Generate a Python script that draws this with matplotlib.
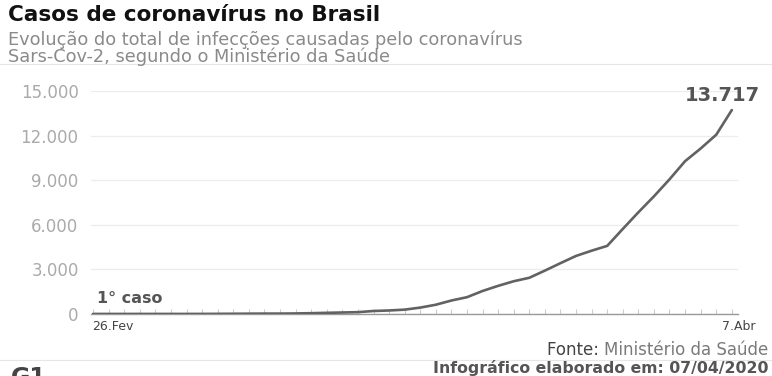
import matplotlib.pyplot as plt
import numpy as np

# total confirmed cases per day, 26 Feb to 7 Apr 2020
dates = ["26.Fev", "7.Abr"]
cases = [1, 1, 1, 2, 2, 2, 2, 3, 8, 13, 19, 25, 25, 34, 52, 77, 98, 121, 200,
         234, 291, 428, 621, 904, 1128, 1546, 1891, 2201, 2433, 2915, 3417,
         3904, 4256, 4579, 5717, 6836, 7910, 9056, 10278, 11130, 12056, 13717]
y_ticks = [0, 3000, 6000, 9000, 12000, 15000]
y_labels = ["0", "3.000", "6.000", "9.000", "12.000", "15.000"]

days = np.arange(len(cases))

fig = plt.figure(figsize=(7.72, 3.76), dpi=100)
ax = fig.add_axes([0.118, 0.165, 0.838, 0.593])

ax.plot(days, cases, color="#626262", lw=1.9, solid_capstyle="round", zorder=3)

ax.set_xlim(-0.13, 41.4)
ax.set_ylim(0, 15000)
ax.set_yticks(y_ticks)
ax.set_yticklabels(y_labels)
ax.set_xticks(days)
ax.set_xticklabels([])
ax.grid(axis="y", color="#ececec", lw=0.9)
ax.set_axisbelow(True)
for side in ["top", "right", "left"]:
    ax.spines[side].set_visible(False)
ax.spines["bottom"].set_color("#999999")
ax.spines["bottom"].set_linewidth(1.0)
ax.tick_params(axis="x", direction="in", length=3.5, color="#cccccc", width=0.8)
ax.tick_params(axis="y", length=0, pad=9, labelsize=12, labelcolor="#aaaaaa")

# end labels on the date axis
ax.annotate(dates[0], xy=(0, 0), xycoords=("data", "axes fraction"),
            xytext=(-1, -4), textcoords="offset points", ha="left", va="top",
            fontsize=9, color="#444444")
ax.annotate(dates[1], xy=(days[-1], 0), xycoords=("data", "axes fraction"),
            xytext=(17, -4), textcoords="offset points", ha="right", va="top",
            fontsize=9, color="#444444")

ax.annotate("1° caso", xy=(days[0], cases[0]), xytext=(3, 6),
            textcoords="offset points", ha="left", va="bottom",
            fontsize=11.5, fontweight="bold", color="#555555")
ax.annotate(f"{cases[-1]:,}".replace(",", "."), xy=(days[-1], cases[-1]),
            xytext=(20, 4), textcoords="offset points", ha="right", va="bottom",
            fontsize=14, fontweight="bold", color="#555555")

# header
fig.text(0.010, 0.988, "Casos de coronavírus no Brasil", ha="left", va="top",
         fontsize=15.5, fontweight="bold", color="#111111")
fig.text(0.010, 0.918, "Evolução do total de infecções causadas pelo coronavírus\n"
         "Sars-Cov-2, segundo o Ministério da Saúde", ha="left", va="top",
         fontsize=12.8, color="#8a8a8a", linespacing=0.86)
fig.add_artist(plt.Line2D([0, 1], [0.830, 0.830], color="#e6e6e6", lw=0.8))

# footer
src = fig.text(0.995, 0.069, "Ministério da Saúde", ha="right", va="center",
               fontsize=12, color="#7a7a7a")
fig.add_artist(plt.Annotation("Fonte: ", xy=(0, 0.5), xycoords=src,
                              ha="right", va="center", fontsize=12,
                              color="#444444"))
fig.add_artist(plt.Line2D([0, 1], [0.043, 0.043], color="#e6e6e6", lw=0.8))
fig.text(0.995, 0.020, "Infográfico elaborado em: 07/04/2020", ha="right",
         va="center", fontsize=11.3, fontweight="bold", color="#555555")
fig.text(0.014, -0.006, "G1", ha="left", va="center", fontsize=17,
         fontweight="heavy", color="#444444")

fig.savefig("out.png", dpi=100)
